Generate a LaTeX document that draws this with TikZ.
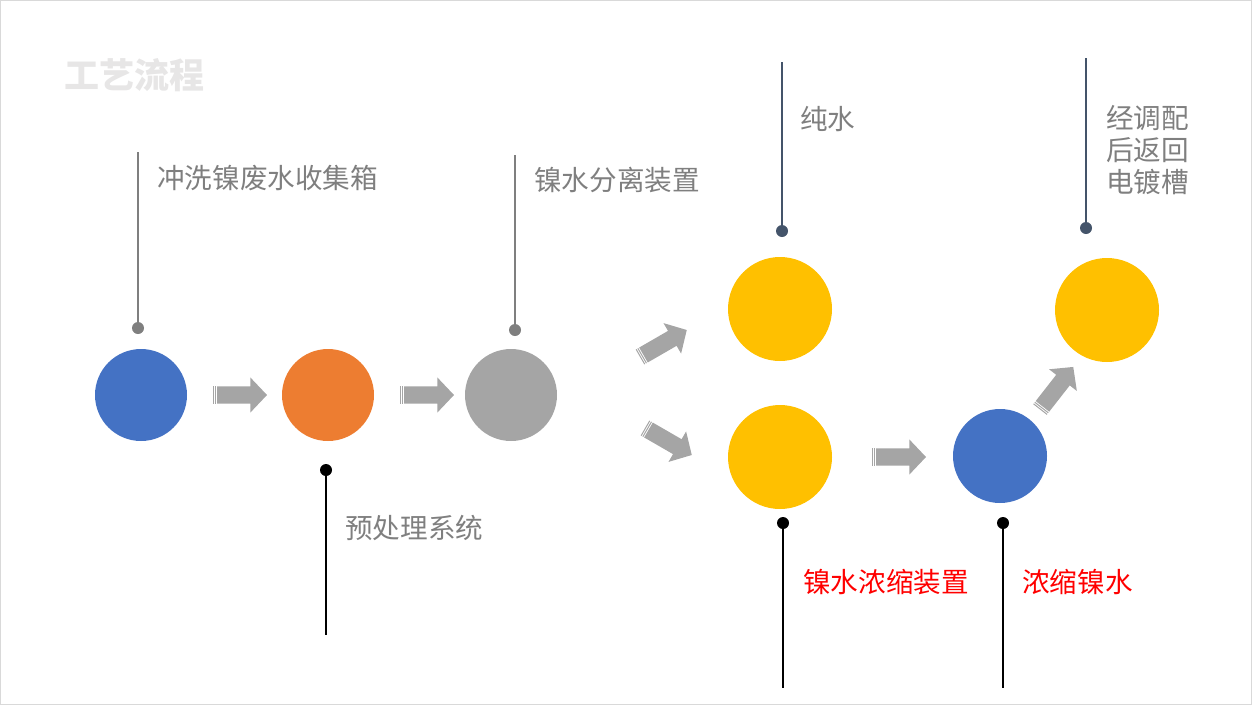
\documentclass[tikz,border=0pt]{standalone}
\usepackage{fontspec}
\setmainfont{Noto Sans CJK SC}
\definecolor{cblue}{HTML}{4472C4}
\definecolor{corange}{HTML}{ED7D31}
\definecolor{cgray}{HTML}{A5A5A5}
\definecolor{cyellow}{HTML}{FFC000}
\definecolor{txtgray}{HTML}{7F7F7F}
\definecolor{slate}{HTML}{44546A}
\definecolor{ttlgray}{HTML}{E7E6E6}
\definecolor{bordergray}{HTML}{D9D9D9}
\newcommand\blockarrow[2]{%
  \begin{scope}[shift={#1},rotate=#2]
    \fill[cgray] (0,-8.6) rectangle (1,8.6);
    \fill[cgray] (2,-8.6) rectangle (3,8.6);
    \fill[cgray] (4,-8.6) -- (37.3,-8.6) -- (37.3,-17.6) -- (54,0) -- (37.3,17.6) -- (37.3,8.6) -- (4,8.6) -- cycle;
  \end{scope}}
\begin{document}
\begin{tikzpicture}[x=1pt,y=-1pt,
  ball/.style={circle,inner sep=0pt,outer sep=0pt},
  lbl/.style={anchor=west,inner sep=0pt,text=txtgray,font=\fontsize{27.6}{32}\selectfont},
  redlbl/.style={lbl,text=red},
  leadgray/.style={draw=txtgray,line width=2pt},
  leadslate/.style={draw=slate,line width=2pt},
  leadblack/.style={draw=black,line width=2pt},
  dotgray/.style={fill=txtgray},
  dotslate/.style={fill=slate},
  dotblack/.style={fill=black}]
\useasboundingbox (0,0) rectangle (1252,705);
\draw[bordergray,line width=1pt] (0.5,0.5) rectangle (1251.5,704.5);
% title
\node[anchor=west,inner sep=0pt,text=ttlgray,font=\fontsize{35}{40}\selectfont\bfseries] (title) at (64,75) {工艺流程};
% circles
\node[ball,fill=cblue,minimum size=92pt] (c1) at (141,395) {};
\node[ball,fill=corange,minimum size=92pt] (c2) at (328,395) {};
\node[ball,fill=cgray,minimum size=92pt] (c3) at (511,395) {};
\node[ball,fill=cyellow,minimum size=104pt] (c4) at (780,309) {};
\node[ball,fill=cyellow,minimum size=104pt] (c5) at (780,457) {};
\node[ball,fill=cblue,minimum size=94pt] (c6) at (1000,456) {};
\node[ball,fill=cyellow,minimum size=104pt] (c7) at (1107,310) {};
% arrows
\blockarrow{(213,395)}{0}
\blockarrow{(400,395)}{0}
\blockarrow{(640,357)}{30}
\blockarrow{(645,428)}{-30}
\blockarrow{(872,457)}{0}
\blockarrow{(1040,409.5)}{52}
% leader lines
\coordinate (d1) at (138,328); \coordinate (e1) at (138,152);
\draw[leadgray] (d1) -- (e1); \fill[dotgray] (d1) circle (6pt);
\node[lbl] (t1) at (157,178) {冲洗镍废水收集箱};
\coordinate (d2) at (326,470); \coordinate (e2) at (326,635);
\draw[leadblack] (d2) -- (e2); \fill[dotblack] (d2) circle (6pt);
\node[lbl] (t2) at (345,528) {预处理系统};
\coordinate (d3) at (515,330); \coordinate (e3) at (515,155);
\draw[leadgray] (d3) -- (e3); \fill[dotgray] (d3) circle (6pt);
\node[lbl] (t3) at (534,180) {镍水分离装置};
\coordinate (d4) at (782,231); \coordinate (e4) at (782,62);
\draw[leadslate] (d4) -- (e4); \fill[dotslate] (d4) circle (6pt);
\node[lbl] (t4) at (800,119) {纯水};
\coordinate (d5) at (1086,228); \coordinate (e5) at (1086,58);
\draw[leadslate] (d5) -- (e5); \fill[dotslate] (d5) circle (6pt);
\node[lbl,align=left,anchor=north west] (t5) at (1106,105) {经调配\\后返回\\电镀槽};
\coordinate (d6) at (783,523); \coordinate (e6) at (783,688);
\draw[leadblack] (d6) -- (e6); \fill[dotblack] (d6) circle (6pt);
\node[redlbl] (t6) at (803,582) {镍水浓缩装置};
\coordinate (d7) at (1003,523); \coordinate (e7) at (1003,688);
\draw[leadblack] (d7) -- (e7); \fill[dotblack] (d7) circle (6pt);
\node[redlbl] (t7) at (1022,582) {浓缩镍水};
\end{tikzpicture}
\end{document}
